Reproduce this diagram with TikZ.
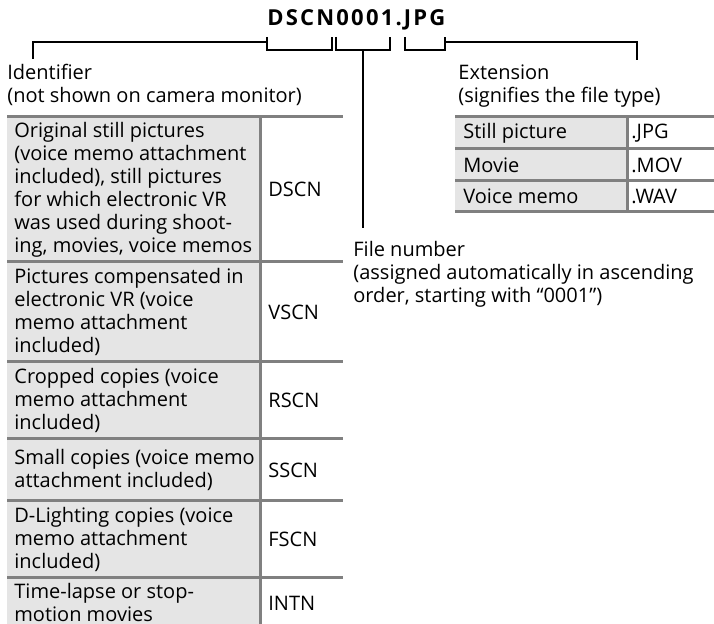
\documentclass[tikz,border=0pt]{standalone}
\usepackage{fontspec}
\setmainfont{Open Sans}
\newfontfamily\titlefont[LetterSpace=10]{Open Sans}
\definecolor{cellgray}{gray}{0.9}
\definecolor{rulegray}{gray}{0.5}
\tikzset{
  rule/.style={rulegray, line width=1.5pt},
  bracket/.style={black, line width=1pt},
  celltext/.style={anchor=west, align=left, inner sep=0pt, font=\fontsize{10}{11.5}\selectfont},
  notetext/.style={anchor=north west, align=left, inner sep=0pt, font=\fontsize{10}{11.5}\selectfont}
}
\begin{document}
\begin{tikzpicture}[x=0.5pt,y=-0.5pt]
  \useasboundingbox (0,0) rectangle (714,624);
  % Title
  \node[anchor=base west, inner sep=0pt, font=\titlefont\bfseries\fontsize{11}{13}\selectfont] (title) at (267,26) {DSCN0001.JPG};
  % Brackets
  \coordinate (idtop) at (33,59);
  \coordinate (numtop) at (363,228);
  \coordinate (exttop) at (637,60);
  \draw[bracket] (idtop) -- (33,42) -- (267,42);
  \draw[bracket] (267,37) -- (267,50) -- (332,50) -- (332,37);
  \draw[bracket] (336,37) -- (336,50) -- (390,50) -- (390,37);
  \draw[bracket] (363,50) -- (numtop);
  \draw[bracket] (405,37) -- (405,50) -- (445,50) -- (445,37);
  \draw[bracket] (445,42) -- (637,42) -- (exttop);
  % Labels
  \node[notetext] (ident) at (7,64) {Identifier\\(not shown on camera monitor)};
  \node[notetext] (ext) at (458,64) {Extension\\(signifies the file type)};
  \node[notetext] (filenum) at (353,241) {File number\\(assigned automatically in ascending\\order, starting with “0001”)};
  % Identifier table
  \fill[cellgray] (7,117) rectangle (260,624);
  \draw[rule] (7,117) -- (343,117);
  \draw[rule] (7,262) -- (343,262);
  \draw[rule] (7,362) -- (343,362);
  \draw[rule] (7,439) -- (343,439);
  \draw[rule] (7,501) -- (343,501);
  \draw[rule] (7,578) -- (343,578);
  \draw[rule] (260,117) -- (260,624);
  \node[celltext] (orig) at (14,189.5) {Original still pictures\\(voice memo attachment\\included), still pictures\\for which electronic VR\\was used during shoot-\\ing, movies, voice memos};
  \node[celltext] (dscn) at (268,189.5) {DSCN};
  \node[celltext] (comp) at (14,312) {Pictures compensated in\\electronic VR (voice\\memo attachment\\included)};
  \node[celltext] (vscn) at (268,312) {VSCN};
  \node[celltext] (crop) at (14,400.5) {Cropped copies (voice\\memo attachment\\included)};
  \node[celltext] (rscn) at (268,400.5) {RSCN};
  \node[celltext] (small) at (14,470) {Small copies (voice memo\\attachment included)};
  \node[celltext] (sscn) at (268,470) {SSCN};
  \node[celltext] (dlight) at (14,539.5) {D-Lighting copies (voice\\memo attachment\\included)};
  \node[celltext] (fscn) at (268,539.5) {FSCN};
  \node[celltext] (lapse) at (14,603) {Time-lapse or stop-\\motion movies};
  \node[celltext] (intn) at (268,603) {INTN};
  % Extension table
  \fill[cellgray] (455,117) rectangle (627,212);
  \draw[rule] (455,117) -- (714,117);
  \draw[rule] (455,149) -- (714,149);
  \draw[rule] (455,181) -- (714,181);
  \draw[rule] (455,212) -- (714,212);
  \draw[rule] (627,117) -- (627,212);
  \node[celltext] (still) at (463,133) {Still picture};
  \node[celltext] (jpg) at (631,133) {.JPG};
  \node[celltext] (movie) at (463,165) {Movie};
  \node[celltext] (mov) at (631,165) {.MOV};
  \node[celltext] (voice) at (463,196.5) {Voice memo};
  \node[celltext] (wav) at (631,196.5) {.WAV};
\end{tikzpicture}
\end{document}
